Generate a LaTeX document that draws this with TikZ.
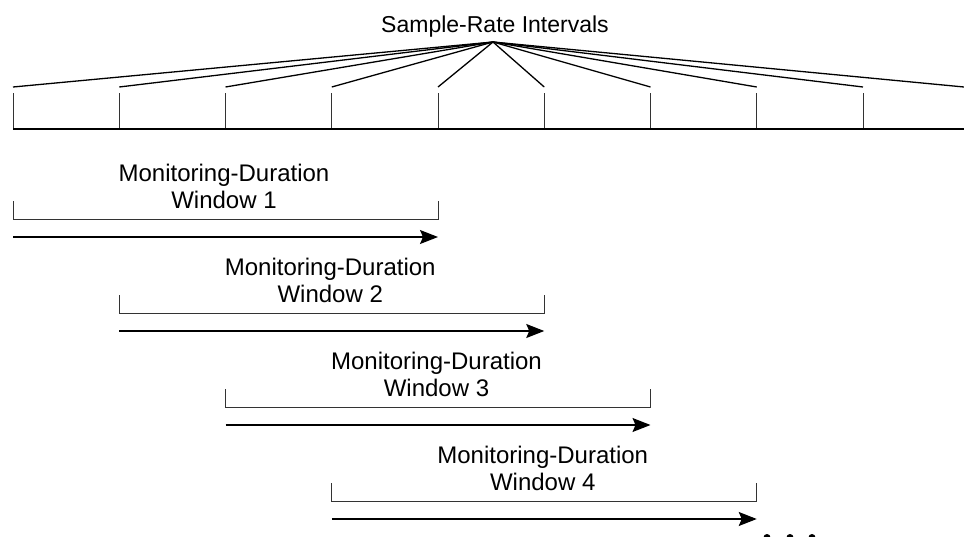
\documentclass[tikz,border=0pt]{standalone}
\usepackage{fontspec}
\setmainfont{Liberation Sans}
\usetikzlibrary{arrows.meta}

\begin{document}
\begin{tikzpicture}[
        x=1pt, y=-1pt,
        label/.style={inner sep=0pt, font=\fontsize{24}{26.5}\selectfont, align=center},
        fan/.style={line width=1.3pt},
        tick/.style={line width=0.9pt, black!80},
        bracket/.style={line width=0.9pt, black!80},
        span/.style={line width=1.2pt, -{Stealth[length=18pt,width=14pt,inset=3pt]}}
      ]

      \useasboundingbox (0,0) rectangle (964,536);

      \node[label, font=\fontsize{23}{26}\selectfont, anchor=base] (title) at (495,32) {Sample-Rate Intervals};
      \coordinate (apex) at (493,42);

      \foreach \i in {0,...,8} {
        \coordinate (f\i) at (13+106.25*\i,87);
        \coordinate (t\i) at (13+106.25*\i,93);
        \coordinate (b\i) at (13+106.25*\i,129);
        \draw[fan] (apex) -- (f\i);
        \draw[tick] (t\i) -- (b\i);
      }
      \coordinate (f9) at (964,87);
      \coordinate (b9) at (964,129);
      \draw[fan] (apex) -- (f9);
      \draw[fan] (b0) -- (b9);

      \foreach \k [evaluate=\k as \xa using 13+106.25*(\k-1),
                   evaluate=\k as \ya using 94*(\k-1)] in {1,...,4} {
        \node[label] (w\k) at (\xa+211,186.5+\ya) {Monitoring-Duration\\Window \k};
        \coordinate (l\k) at (\xa,201+\ya);
        \coordinate (r\k) at (\xa+425,201+\ya);
        \coordinate (s\k) at (\xa,237+\ya);
        \coordinate (e\k) at (\xa+425,237+\ya);
        \draw[bracket] (l\k) -- ++(0,18) -| (r\k);
        \draw[span] (s\k) -- (e\k);
      }

      \foreach \x in {767,790,812} \fill (\x,537.5) circle (3.5pt);

    \end{tikzpicture}
\end{document}
